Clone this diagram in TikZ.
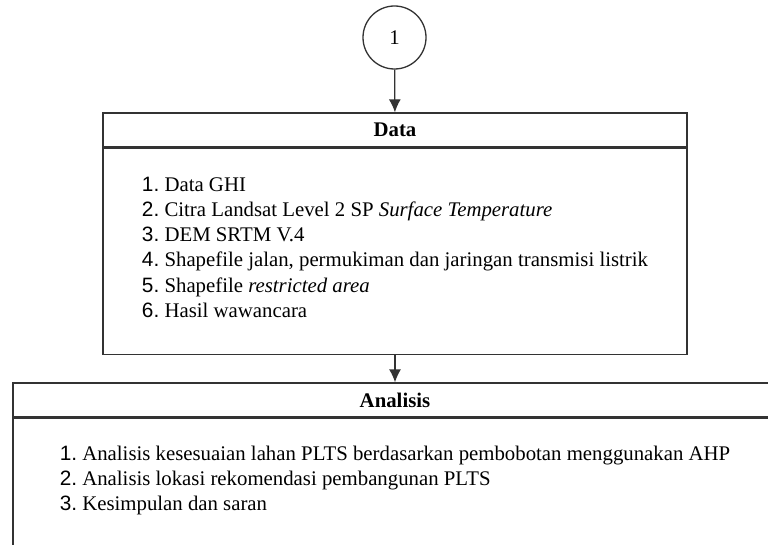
\documentclass[tikz,border=0pt]{standalone}
\usepackage{fontspec}
\setmainfont{Liberation Serif}
\newfontfamily\angka{Liberation Sans}
\usepackage{tikz}
\usetikzlibrary{positioning, arrows.meta}

\newcommand{\butir}[1]{{\angka #1.}~}

\begin{document}
\begin{tikzpicture}[x=1pt, y=-1pt, >={Latex[length=13pt, width=12pt]},
    garis/.style={draw=black!80, line width=1.3pt},
    teks/.style={font=\fontsize{20.8}{25.3}\selectfont},
    kepala/.style={garis, rectangle, font=\fontsize{20.8}{25.3}\selectfont\bfseries, minimum height=34pt, inner sep=0pt},
    isi/.style={garis, teks, rectangle, align=left, inner sep=0pt}]
    % Batas gambar
    \clip (0,0) rectangle (768,545);

    % Penghubung 1
    \node[garis, teks, circle, minimum size=63pt, inner sep=0pt] (mulai) at (394.5,37.5) {1};

    % Kotak data
    \node[kepala, minimum width=584pt] (dataKepala) at (395,130) {Data};
    \node[isi, minimum width=584pt, minimum height=206pt, below=0pt of dataKepala] (dataIsi) {%
        \butir{1}Data GHI\\
        \butir{2}Citra Landsat Level 2 SP \textit{Surface Temperature}\\
        \butir{3}DEM SRTM V.4\\
        \butir{4}Shapefile jalan, permukiman dan jaringan transmisi listrik\\
        \butir{5}Shapefile \textit{restricted area}\\
        \butir{6}Hasil wawancara\\[-17pt]};

    % Kotak analisis
    \node[kepala, minimum width=764pt] (analisisKepala) at (395,400) {Analisis};
    \node[isi, minimum width=764pt, minimum height=135pt, below=0pt of analisisKepala] (analisisIsi) {%
        \butir{1}Analisis kesesuaian lahan PLTS berdasarkan pembobotan menggunakan AHP\\
        \butir{2}Analisis lokasi rekomendasi pembangunan PLTS\\
        \butir{3}Kesimpulan dan saran\\[-10pt]};

    % Panah
    \draw[garis, ->] (mulai) -- (dataKepala);
    \draw[garis, ->] (dataIsi.south) -- (dataIsi.south |- analisisKepala.north);
\end{tikzpicture}
\end{document}
